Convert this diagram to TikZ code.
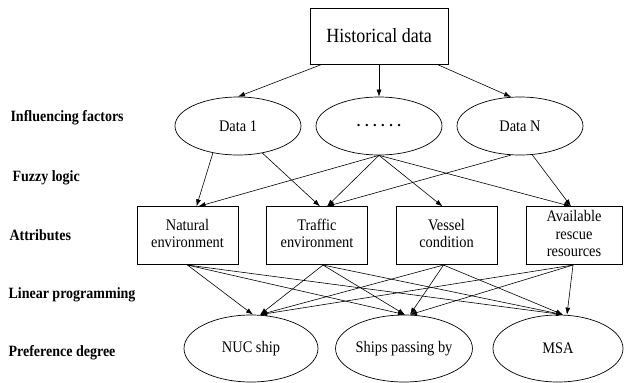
\documentclass[tikz,border=0pt]{standalone}
\usepackage{fontspec}
\usepackage{graphicx}
\setmainfont{Liberation Serif}
\usetikzlibrary{shapes.geometric,arrows.meta}
\newcommand\vs[1]{\scalebox{1}[1.12]{#1}}
\newcommand\vl[1]{\scalebox{1}[1.12]{\begin{tabular}{@{}c@{}}#1\end{tabular}}}
\begin{document}
\begin{tikzpicture}[x=1pt,y=-1pt,
  every node/.style={font=\fontsize{14.4}{15.6}\selectfont},
  boxn/.style={draw,line width=0.7pt,minimum width=101pt,minimum height=58pt,inner sep=0pt,align=center},
  ell/.style={draw,ellipse,line width=0.7pt,inner sep=0pt},
  lab/.style={anchor=west,font=\fontsize{14}{15}\selectfont\bfseries},
  arr/.style={line width=0.6pt,-{Latex[length=7pt,width=5pt]}}]
\useasboundingbox (0,0) rectangle (625,383);
% top
\node[boxn,minimum width=138pt,minimum height=56pt,font=\fontsize{18}{20}\selectfont] (hist) at (379,36) {\vs{Historical data}};
% influencing factors
\node[ell,minimum width=126pt,minimum height=58pt] (d1) at (238,126) {\vs{Data 1}};
\node[ell,minimum width=126pt,minimum height=58pt] (dm) at (379,126) {\bfseries .\hspace{4.5pt}.\hspace{4.5pt}.\hspace{4.5pt}.\hspace{4.5pt}.\hspace{4.5pt}.};
\node[ell,minimum width=126pt,minimum height=58pt] (dN) at (520,126) {\vs{Data N}};
% attributes
\node[boxn] (b1) at (187.5,235.7) {\vl{Natural\\environment}};
\node[boxn] (b2) at (317,235.7) {\vl{Traffic\\environment}};
\node[boxn] (b3) at (446.5,235.7) {\vl{Vessel\\condition}};
\node[boxn,minimum width=96pt] (b4) at (574,235.7) {\vl{Available\\rescue\\resources}};
% preference
\node[ell,minimum width=134pt,minimum height=67pt] (e1) at (251,348.5) {\vs{NUC ship}};
\node[ell,minimum width=134pt,minimum height=67pt] (e2) at (404,348.5) {\vs{Ships passing by}};
\node[ell,minimum width=130pt,minimum height=67pt] (e3) at (558,348.5) {\vs{MSA}};
% labels
\node[lab] (l1) at (7,118) {\vs{Influencing factors}};
\node[lab] (l2) at (9,178) {\vs{Fuzzy logic}};
\node[lab] (l3) at (6,235) {\vs{Attributes}};
\node[lab] (l4) at (5,295) {\vs{Linear programming}};
\node[lab] (l5) at (5,353) {\vs{Preference degree}};
% edges top
\draw[arr] ([xshift=-57pt]hist.south) -- (d1.north);
\draw[arr] (hist.south) -- (dm.north);
\draw[arr] ([xshift=58pt]hist.south) -- (dN.107);
% fuzzy logic
\draw[arr] (d1.227) -- ([xshift=9pt]b1.north);
\draw[arr] (d1.312) -- ([xshift=3pt]b2.north);
\draw[arr] (dm.south) -- ([xshift=11pt]b1.north);
\draw[arr] (dm.south) -- ([xshift=10pt]b2.north);
\draw[arr] (dm.south) -- ([xshift=-4pt]b3.north);
\draw[arr] (dm.south) -- ([xshift=-3pt]b4.north);
\draw[arr] (dN.253) -- ([xshift=10pt]b2.north);
\draw[arr] (dN.293) -- ([xshift=-3pt]b4.north);
% linear programming
\draw[arr] (b1.south) -- ([xshift=2pt]e1.north);
\draw[arr] (b1.south) -- ([xshift=1pt]e2.north);
\draw[arr] (b1.south) -- ([xshift=5pt]e3.north);
\draw[arr] ([xshift=6pt]b2.south) -- ([xshift=9pt]e1.north);
\draw[arr] ([xshift=6pt]b2.south) -- ([xshift=1pt]e2.north);
\draw[arr] ([xshift=6pt]b2.south) -- ([xshift=5pt]e3.north);
\draw[arr] ([xshift=-3pt]b3.south) -- ([xshift=9pt]e1.north);
\draw[arr] ([xshift=-3pt]b3.south) -- ([xshift=6pt]e2.north);
\draw[arr] ([xshift=-3pt]b3.south) -- ([xshift=5pt]e3.north);
\draw[arr] ([xshift=-1pt]b4.south) -- ([xshift=9pt]e1.north);
\draw[arr] ([xshift=-1pt]b4.south) -- ([xshift=6pt]e2.north);
\draw[arr] ([xshift=-1pt]b4.south) -- ([xshift=9pt]e3.north);
\end{tikzpicture}
\end{document}
